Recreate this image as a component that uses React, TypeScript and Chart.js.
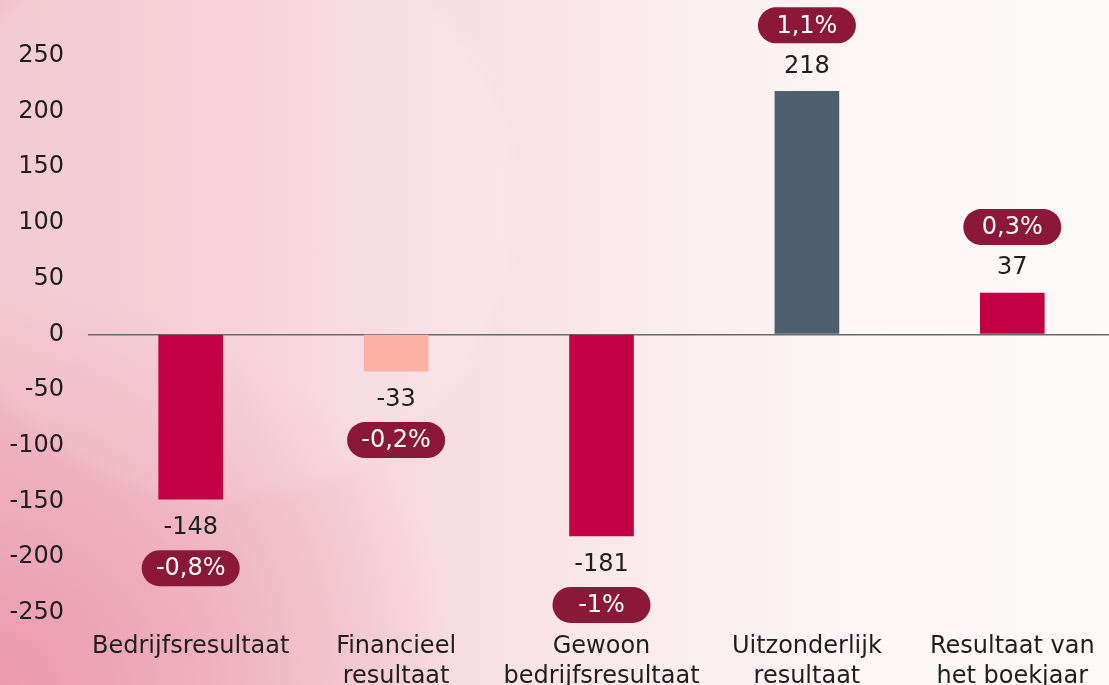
import React, { useEffect, useRef } from "react";
import { Chart, registerables } from "chart.js";

Chart.register(...registerables);

const categories: string[][] = [
  ["Bedrijfsresultaat"],
  ["Financieel", "resultaat"],
  ["Gewoon", "bedrijfsresultaat"],
  ["Uitzonderlijk", "resultaat"],
  ["Resultaat van", "het boekjaar"],
];
const values: number[] = [-148, -33, -181, 218, 37];
const percentLabels: string[] = ["-0,8%", "-0,2%", "-1%", "1,1%", "0,3%"];
const barColors: string[] = ["#c40044", "#fbb2a2", "#c40044", "#4e606e", "#c40044"];
const yTickValues: number[] = [-250, -200, -150, -100, -50, 0, 50, 100, 150, 200, 250];
const yMin = -260;
const yMax = 300;

const FONT = "'DejaVu Sans', sans-serif";
const FS = 24;

const labelPlugin = {
  id: "valueAndPills",
  afterDatasetsDraw(chart: any) {
    const ctx = chart.ctx;
    const meta = chart.getDatasetMeta(0);
    meta.data.forEach((bar: any, i: number) => {
      const v = values[i];
      const x = bar.x;
      const yEnd = bar.y;
      const dir = v >= 0 ? -1 : 1;
      const valueY = yEnd + dir * (v >= 0 ? 25 : 29);
      const pillY = yEnd + dir * (v >= 0 ? 66 : 69);
      ctx.save();
      ctx.font = `${FS}px ${FONT}`;
      ctx.fillStyle = "#1e1e1e";
      ctx.textAlign = "center";
      ctx.textBaseline = "middle";
      ctx.fillText(String(v), x, valueY);
      const w = 98;
      const h = 36;
      ctx.beginPath();
      ctx.roundRect(x - w / 2, pillY - h / 2, w, h, h / 2);
      ctx.fillStyle = "#8c1839";
      ctx.fill();
      ctx.fillStyle = "#ffffff";
      ctx.fillText(percentLabels[i], x, pillY + 1);
      ctx.restore();
    });
  },
};

export default function App() {
  const ref = useRef<HTMLCanvasElement | null>(null);
  useEffect(() => {
    if (!ref.current) return;
    const chart = new Chart(ref.current, {
      type: "bar",
      data: {
        labels: categories,
        datasets: [
          {
            data: values,
            backgroundColor: barColors,
            barThickness: 64,
            borderWidth: 0,
          },
        ],
      },
      options: {
        animation: false,
        responsive: false,
        layout: { padding: 0 },
        plugins: { legend: { display: false }, tooltip: { enabled: false } },
        scales: {
          x: {
            grid: { display: false, drawTicks: false },
            border: { display: false },
            ticks: {
              color: "#1e1e1e",
              font: { family: FONT, size: FS, lineHeight: 1.24 },
              padding: 8,
              maxRotation: 0,
              autoSkip: false,
            },
            afterFit(scale: any) {
              scale.height = 68;
              scale.paddingLeft = 0;
              scale.paddingRight = 0;
            },
          },
          y: {
            min: yMin,
            max: yMax,
            grid: {
              drawTicks: false,
              color: (c: any) => (c.tick && c.tick.value === 0 ? "#6a6a6a" : "rgba(0,0,0,0)"),
              lineWidth: 1.5,
            },
            border: { display: false },
            ticks: {
              color: "#1e1e1e",
              font: { family: FONT, size: FS },
              padding: 24,
            },
            afterBuildTicks(scale: any) {
              scale.ticks = yTickValues.map((v) => ({ value: v }));
            },
            afterFit(scale: any) {
              scale.width = 88;
              scale.paddingTop = 0;
              scale.paddingBottom = 0;
            },
          },
        },
      },
      plugins: [labelPlugin],
    });
    return () => chart.destroy();
  }, []);

  return (
    <div
      style={{
        position: "fixed",
        left: 0,
        top: 0,
        width: 1109,
        height: 685,
        overflow: "hidden",
        background:
          "radial-gradient(ellipse 42% 58% at 0% 100%, rgba(233,145,168,0.8), rgba(233,145,168,0) 100%)," +
          "radial-gradient(circle at 20% 30%, rgba(255,255,255,0.16) 0%, rgba(255,255,255,0.16) 28%, rgba(255,255,255,0) 30%)," +
          "linear-gradient(to right, #f1c0cb 0%, #f4cbd4 22%, #f8dfe4 42%, #fbeef0 62%, #fdf7f7 80%, #fdf9f9 100%)",
      }}
    >
      <canvas
        ref={ref}
        width={1115}
        height={692}
        style={{ position: "absolute", left: 0, top: 0, width: 1115, height: 692 }}
      />
    </div>
  );
}
